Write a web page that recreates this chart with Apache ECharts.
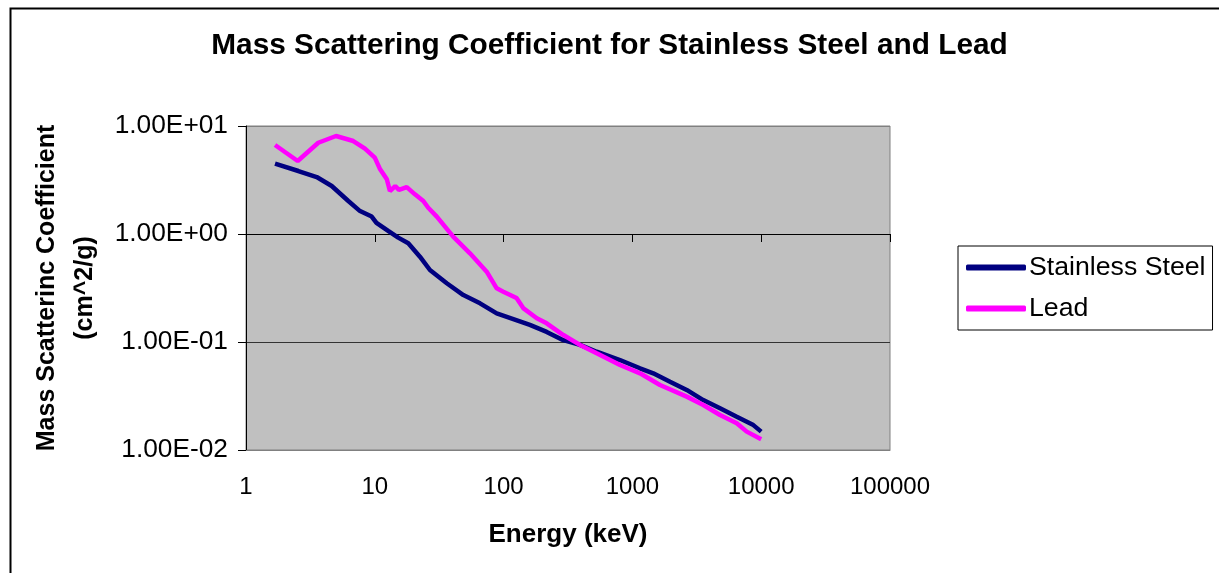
<!DOCTYPE html>
<html>
<head>
<meta charset="utf-8">
<script src="https://cdn.jsdelivr.net/npm/echarts@6/dist/echarts.min.js"></script>
<style>
html,body{margin:0;padding:0;background:#fff;}
#chart{width:1219px;height:573px;}
</style>
</head>
<body>
<div id="chart"></div>
<script>
var titleText = 'Mass Scattering Coefficient for Stainless Steel and Lead';
var xAxisTitle = 'Energy (keV)';
var yAxisTitle = 'Mass Scatterinc Coefficient\n(cm^2/g)';
var seriesNames = ['Stainless Steel', 'Lead'];

var steelEnergy = [1.68, 2.55, 3.54, 4.63, 6.23, 7.68, 9.46, 10.3, 12.7, 15.2, 18.2, 22.4, 26.8, 36.2, 48.7, 65.6, 88.4, 119, 160, 216, 291, 392, 528, 801, 1146, 1452, 1959, 2641, 3550, 4790, 6460, 8690, 10000];
var steelCoef = [4.48, 3.83, 3.37, 2.78, 2.02, 1.63, 1.45, 1.27, 1.07, 0.925, 0.82, 0.617, 0.464, 0.35, 0.272, 0.228, 0.184, 0.163, 0.144, 0.124, 0.104, 0.094, 0.0813, 0.0681, 0.0571, 0.0513, 0.0429, 0.036, 0.029, 0.0243, 0.0203, 0.017, 0.0148];

var leadEnergy = [1.68, 2.52, 3.64, 5.0, 6.81, 8.39, 10.0, 11.0, 12.4, 13.1, 14.4, 15.4, 17.7, 20.5, 23.8, 26.0, 30.3, 40.6, 54.8, 73.9, 88.4, 99.5, 126, 142, 181, 216, 291, 392, 528, 801, 1146, 1637, 2641, 3550, 4790, 6460, 7720, 10000];
var leadCoef = [6.67, 4.74, 7.0, 8.08, 7.26, 6.17, 5.09, 3.97, 3.21, 2.5, 2.78, 2.56, 2.72, 2.33, 2.02, 1.75, 1.45, 0.944, 0.662, 0.448, 0.314, 0.292, 0.255, 0.206, 0.166, 0.149, 0.116, 0.094, 0.0785, 0.0612, 0.0513, 0.04, 0.0312, 0.0261, 0.0211, 0.0177, 0.0148, 0.01256];

var xMin = 1, xMax = 100000;
var yMin = 0.01, yMax = 10, yCross = 1;

function pairs(xs, ys) { return xs.map(function (x, i) { return [x, ys[i]]; }); }
function sciLabel(v) {
  var e = Math.round(Math.log10(v));
  var m = v / Math.pow(10, e);
  return m.toFixed(2) + 'E' + (e < 0 ? '-' : '+') + String(Math.abs(e)).padStart(2, '0');
}

var FONT = 'Liberation Sans, Arial, sans-serif';
var gridTop = 126, gridHeight = 324;
var crossOffset = -gridHeight * (Math.log10(yCross) - Math.log10(yMin)) / (Math.log10(yMax) - Math.log10(yMin));

var chart = echarts.init(document.getElementById('chart'), null, {renderer: 'canvas'});
chart.setOption({
  backgroundColor: '#ffffff',
  animation: false,
  textStyle: {fontFamily: FONT},
  graphic: [{
    type: 'rect', left: 8, top: 6, z: -10,
    shape: {width: 1240, height: 600},
    style: {fill: 'none', stroke: '#000', lineWidth: 2}
  }],
  title: {
    text: titleText, left: 'center', top: 31, padding: 0,
    textStyle: {fontFamily: FONT, fontSize: 29.8, fontWeight: 'bold', color: '#000'}
  },
  legend: {
    orient: 'vertical', left: 958, top: 246,
    backgroundColor: '#fff', borderColor: '#000', borderWidth: 1,
    padding: [8, 7, 8, 8], itemGap: 14,
    itemWidth: 60, itemHeight: 6, icon: 'roundRect',
    textStyle: {fontFamily: FONT, fontSize: 26.7, color: '#000', padding: [0, 0, 0, -2]},
    data: seriesNames
  },
  grid: {
    left: 246, top: gridTop, width: 644, height: gridHeight,
    show: true, backgroundColor: '#c0c0c0', borderColor: '#808080', borderWidth: 1
  },
  xAxis: [{
    type: 'log', logBase: 10, min: xMin, max: xMax, position: 'bottom',
    name: xAxisTitle, nameLocation: 'middle', nameGap: 72,
    nameTextStyle: {fontFamily: FONT, fontSize: 26, fontWeight: 'bold', color: '#000'},
    axisLine: {show: true, lineStyle: {color: '#808080', width: 1}},
    axisTick: {show: false},
    axisLabel: {margin: 25, fontFamily: FONT, fontSize: 24, color: '#000',
      formatter: function (v) { return String(Math.round(v)); }},
    splitLine: {show: false}
  }, {
    type: 'log', logBase: 10, min: xMin, max: xMax, position: 'bottom',
    offset: crossOffset,
    axisLine: {show: true, lineStyle: {color: '#000', width: 1}},
    axisTick: {show: true, length: 8, lineStyle: {color: '#000'}},
    axisLabel: {show: false},
    splitLine: {show: false}
  }],
  yAxis: {
    type: 'log', logBase: 10, min: yMin, max: yMax,
    name: yAxisTitle, nameLocation: 'middle', nameGap: 140, nameRotate: 90,
    nameTextStyle: {fontFamily: FONT, fontSize: 25, fontWeight: 'bold', color: '#000', lineHeight: 38},
    axisLine: {show: true, lineStyle: {color: '#000', width: 1}},
    axisTick: {show: true, length: 8, lineStyle: {color: '#000'}},
    axisLabel: {margin: 18, fontFamily: FONT, fontSize: 26.3, color: '#000', formatter: sciLabel},
    splitLine: {show: true, lineStyle: {color: ['#808080', '#333333', '#333333', '#808080'], width: 1}}
  },
  series: [{
    name: seriesNames[0], type: 'line', xAxisIndex: 0,
    data: pairs(steelEnergy, steelCoef),
    showSymbol: false, symbol: 'none',
    lineStyle: {color: '#000080', width: 4.5},
    itemStyle: {color: '#000080'}
  }, {
    name: seriesNames[1], type: 'line', xAxisIndex: 0,
    data: pairs(leadEnergy, leadCoef),
    showSymbol: false, symbol: 'none',
    lineStyle: {color: '#ff00ff', width: 4.5},
    itemStyle: {color: '#ff00ff'}
  }]
});
</script>
</body>
</html>
